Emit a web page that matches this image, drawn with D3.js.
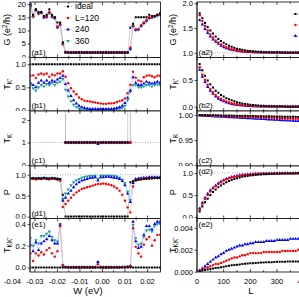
<!DOCTYPE html>
<html>
<head>
<meta charset="utf-8">
<script src="https://cdn.jsdelivr.net/npm/d3@7"></script>
<style>
  body { margin: 0; background: #fff; }
  svg { display: block; }
</style>
</head>
<body>
<div id="chart"></div>
<script>
// ---- left column: energy W (eV) ----
const W = [-0.032,-0.0308,-0.0296,-0.0284,-0.0272,-0.026,-0.0248,-0.0236,-0.0224,-0.0212,
  -0.02,-0.0188,-0.0176,-0.0164,-0.0152,-0.014,-0.0128,-0.0116,-0.0104,-0.0092,
  -0.008,-0.0068,-0.0056,-0.0044,-0.0032,-0.002,-0.0008,0.0004,0.0016,0.0028,
  0.004,0.0052,0.0064,0.0076,0.0088,0.01,0.0112,0.0124,0.0136,0.0148,
  0.016,0.0172,0.0184,0.0196,0.0208,0.022,0.0232,0.0244,0.0256];
const wTicks = [-0.04, -0.03, -0.02, -0.01, 0, 0.01, 0.02];

// (a1) G
const G_ideal = [20,16,18,17,17,15.5,16,18,16,15,13,13, 5.5,
  1.6,1.6,1.6,1.6,1.6,1.6, 1.6,1.6,1.6,1.6,1.6,1.6, 1.6,1.6,1.6,1.6,1.6,1.6, 1.6,1.6,1.6,1.6,1.6,1.6,
  11,12.5,15,15,15,15,15,16,15.5,15.5,16,16.5];
const G_120 = [20,15.5,18,16.5,17,15,15.5,17,15.5,15,11.5,12.5, 5,
  1.8,1.6,1.6,1.6,1.6,1.6, 1.6,1.6,1.6,1.6,1.6,1.6, 1.6,1.6,1.6,1.6,1.6,1.6, 1.6,1.6,1.6,1.6,1.6,1.6,
  3.5,12,10.5,10.5,12,13,14,15,15,15.5,16,16];
const G_240 = [19.5,15.5,17.8,16.5,16.8,15,15.2,16.8,15.3,14.8,11.2,12.2, 5,
  1.7,1.6,1.6,1.6,1.6,1.6, 1.6,1.6,1.6,1.6,1.6,1.6, 1.6,1.6,1.6,1.6,1.6,1.6, 1.6,1.6,1.6,1.6,1.6,1.6,
  3,11.8,10.2,10.4,11.8,12.8,13.8,14.8,15,15.3,15.8,16];
const G_360 = [19,15,17.5,16.2,16.5,14.8,15,16.5,15,14.5,11,12, 4.6,
  1.7,1.6,1.6,1.6,1.6,1.6, 1.6,1.6,1.6,1.6,1.6,1.6, 1.6,1.6,1.6,1.6,1.6,1.6, 1.6,1.6,1.6,1.6,1.6,1.6,
  2.8,11.5,10,10.2,11.5,12.5,13.5,14.5,14.8,15.2,15.6,15.8];

// (b1) T_K'
const TKp_ideal = [1,1,1,1,1,1,1,1,1,1,1,1,1,1,1,1,1,1,1,1,1,1,1,1,1,
  1,1,1,1,1,1,1,1,1,1,1,1,1,1,1,1,1,1,1,1,1,1,1,1];
const TKp_120 = [.75,.76,.70,.78,.80,.78,.80,.73,.78,.76,.80,.80, .85,
  .73,.59,.48,.41,.35,.28,.24,.21,.20,.19,.18,.17,.16,.15,.14,.14,.15,.15,.16,.18,.20,.22,.26,.37,
  .55,.84,.71,.65,.63,.72,.75,.76,.74,.72,.75,.75];
const TKp_240 = [.60,.55,.50,.60,.65,.60,.65,.60,.65,.62,.67,.70, .75,
  .57,.43,.31,.22,.15,.10,.07,.05,.04,.03,.03,.03,.03,.03,.03,.03,.03,.03,.04,.05,.07,.10,.16,.27,
  .43,.72,.60,.55,.55,.58,.62,.60,.58,.60,.62,.60];
const TKp_360 = [.55,.48,.43,.50,.55,.52,.57,.55,.60,.55,.60,.62, .68,
  .45,.30,.20,.12,.07,.04,.02,.01,.01,.01,.01,.01,.01,.01,.01,.01,.01,.01,.01,.02,.03,.05,.10,.22,
  .40,.55,.55,.50,.50,.52,.55,.55,.52,.55,.56,.55];

// (c1) T_K  (40 = off the top of the panel)
const TK_ideal = [null,null,null,null,null,null,null,null,null,null,null,null, 40,
  1,1,1,1,1,1,1,1,1,1,1,1,1,1,1,1,1,1,1,1,1,1,1,1, 40,
  null,null,null,null,null,null,null,null,null,null,null];
const TK_120 = [null,null,null,null,null,null,null,null,null,null,null,null, 40,
  1,1,1,1,1,1,1,1,1,1,1,1,1,1,1,1,1,1,1,1,1,1,1,1,1, 40,
  null,null,null,null,null,null,null,null,null,null];
const TK_240 = [null,null,null,null,null,null,null,null,null,null,null,null, 40,
  1,1,1,1,1,1,1,1,1,1,1,1,0.93,1,1,1,1,1,1,1,1,1,1,1,1, 40,
  null,null,null,null,null,null,null,null,null,null];
const TK_360 = [null,null,null,null,null,null,null,null,null,null,null,null, 40,
  1,1,1,1,1,1,1,1,1,1,1,1,0.97,1,1,1,1,1,1,1,1,1,1,1,1, 40,
  null,null,null,null,null,null,null,null,null,null];

// (d1) P
const P_ideal = [.92,.92,.91,.92,.91,.92,.91,.91,.92,.91,.90,.90, .52,
  0,0,0,0,0,0,0,0,0,0,0,0,0,0,0,0,0,0,0,0,0,0,0,0,
  .82,.85,.87,.88,.89,.90,.90,.91,.91,.92,.92,.92];
const P_120 = [.90,.90,.89,.90,.90,.91,.90,.89,.90,.90,.88,.86, .23,
  .30,.38,.45,.52,.58,.62,.66,.68,.70,.72,.74,.76,.78,.78,.79,.78,.77,.75,.72,.68,.62,.52,.38,.22,
  .10,.72,.86,.88,.90,.90,.91,.91,.92,.92,.92,.92];
const P_240 = [.91,.91,.90,.91,.91,.92,.91,.90,.91,.91,.90,.88, .38,
  .45,.55,.62,.70,.77,.82,.86,.88,.90,.92,.93,.94,.86,.94,.94,.95,.95,.94,.93,.92,.90,.85,.75,.55,
  .35,.80,.90,.91,.92,.93,.93,.94,.94,.94,.94,.94];
const P_360 = [.92,.92,.91,.92,.92,.93,.92,.91,.92,.92,.91,.90, .42,
  .55,.65,.75,.82,.87,.90,.93,.95,.96,.97,.97,.98,.90,.98,.98,.98,.98,.98,.97,.96,.93,.88,.80,.60,
  .40,.82,.88,.90,.91,.92,.92,.93,.93,.93,.93,.93];

// (e1) T_KK'
const TKKp_ideal = [0,0,0,0,0,0,0,0,0,0,0,0,0,0,0,0,0,0,0,0,0,0,0,0,0,
  0,0,0,0,0,0,0,0,0,0,0,0,0,0,0,0,0,0,0,0,0,0,0,0];
const TKKp_120 = [.13,.06,.13,.11,.14,.12,.16,.18,.13,.10,.15,.38, .02,
  .004,.003,.002,.002,.002,.002,.002,.002,.002,.002,.002,.002,.03,.002,.002,.002,.002,.002,.002,.002,.002,.003,.004,.006,
  .01,.36,.19,.13,.10,.21,.26,.28,.20,.25,.30,.30];
const TKKp_240 = [.21,.15,.23,.16,.22,.24,.26,.29,.25,.22,.22,.39, .02,
  .004,.003,.003,.003,.003,.003,.003,.003,.003,.003,.003,.003,.05,.003,.003,.003,.003,.003,.003,.003,.003,.004,.005,.008,
  .015,.42,.24,.18,.19,.30,.38,.38,.35,.40,.42,.42];
const TKKp_360 = [.27,.20,.25,.22,.29,.29,.31,.33,.28,.25,.24,.40, .02,
  .004,.003,.003,.003,.003,.003,.003,.003,.003,.003,.003,.003,.05,.003,.003,.003,.003,.003,.003,.003,.003,.004,.005,.008,
  .015,.39,.27,.21,.22,.28,.34,.35,.33,.38,.40,.40];

// ---- right column: ribbon length L ----
const L = [10,20,30,40,50,60,70,80,90,100,110,120,130,140,150,160,170,180,190,200,
  210,220,230,240,250,260,270,280,290,300,310,320,330,340,350,360,370,380,390,400];
const lTicks = [0, 100, 200, 300, 400];

const rG_black = [1.80,1.70,1.60,1.52,1.45,1.39,1.33,1.28,1.24,1.20,1.17,1.14,1.12,1.10,1.08,1.07,1.06,1.05,1.04,1.035,
  1.03,1.025,1.02,1.02,1.015,1.015,1.01,1.01,1.01,1.01,1.008,1.008,1.006,1.006,1.005,1.005,1.004,1.004,1.004,1.003];
const rG_red = [1.76,1.64,1.54,1.45,1.37,1.31,1.25,1.21,1.17,1.14,1.11,1.09,1.07,1.06,1.05,1.04,1.03,1.025,1.02,1.018,
  1.015,1.012,1.01,1.01,1.008,1.007,1.006,1.005,1.005,1.004,1.004,1.003,1.003,1.003,1.002,1.002,1.002,1.002,1.002,1.002];
const rG_blue = [1.66,1.57,1.48,1.40,1.33,1.27,1.22,1.18,1.14,1.11,1.09,1.07,1.06,1.05,1.04,1.03,1.025,1.02,1.017,1.014,
  1.012,1.01,1.008,1.007,1.006,1.005,1.004,1.004,1.003,1.003,1.003,1.002,1.002,1.002,1.002,1.002,1.001,1.001,1.001,1.001];

const rTKp_black = [.80,.68,.58,.49,.42,.36,.30,.26,.22,.19,.16,.14,.12,.10,.085,.072,.062,.053,.045,.038,
  .033,.028,.024,.020,.017,.015,.013,.011,.010,.009,.008,.007,.006,.006,.005,.005,.004,.004,.004,.003];
const rTKp_red = [.74,.60,.50,.41,.33,.27,.22,.18,.15,.12,.10,.08,.065,.055,.045,.037,.030,.025,.020,.017,
  .014,.012,.010,.008,.007,.006,.005,.004,.004,.003,.003,.003,.002,.002,.002,.002,.002,.001,.001,.001];
const rTKp_blue = [.69,.56,.46,.37,.30,.24,.19,.15,.12,.10,.08,.065,.052,.042,.034,.028,.022,.018,.015,.012,
  .010,.008,.007,.006,.005,.004,.003,.003,.003,.002,.002,.002,.002,.001,.001,.001,.001,.001,.001,.001];

const rTK_black = [1.0000,.9999,.9998,.9997,.9996,.9995,.9994,.9993,.9992,.9991,.9990,.9989,.9988,.9987,.9986,.9985,.9984,.9983,.9982,.9981,
  .9980,.9979,.9978,.9977,.9976,.9975,.9974,.9973,.9972,.9971,.9970,.9969,.9968,.9967,.9966,.9965,.9964,.9963,.9962,.9961];
const rTK_red = [.9998,.9996,.9994,.9992,.9990,.9988,.9986,.9984,.9982,.9980,.9978,.9976,.9974,.9972,.9970,.9968,.9966,.9964,.9962,.9960,
  .9958,.9956,.9954,.9952,.9950,.9948,.9946,.9944,.9942,.9940,.9938,.9936,.9934,.9932,.9930,.9928,.9926,.9924,.9922,.9920];
const rTK_blue = [.9990,.9987,.9984,.9981,.9978,.9975,.9972,.9969,.9966,.9963,.9960,.9957,.9954,.9951,.9948,.9945,.9942,.9939,.9936,.9933,
  .9930,.9927,.9924,.9921,.9918,.9915,.9912,.9909,.9906,.9903,.9900,.9897,.9894,.9891,.9888,.9885,.9882,.9879,.9876,.9873];

const rP_black = [.13,.24,.34,.42,.50,.57,.63,.68,.72,.76,.79,.82,.845,.865,.885,.90,.915,.925,.935,.945,
  .952,.958,.963,.968,.972,.975,.978,.981,.983,.985,.987,.988,.989,.990,.991,.992,.993,.993,.994,.994];
const rP_red = [.17,.30,.41,.50,.58,.65,.70,.75,.79,.83,.86,.88,.90,.915,.93,.94,.95,.96,.965,.97,
  .975,.98,.983,.985,.987,.989,.99,.991,.992,.993,.994,.995,.995,.996,.996,.997,.997,.997,.998,.998];
const rP_blue = [.20,.33,.44,.53,.61,.67,.72,.77,.81,.84,.87,.89,.91,.925,.94,.95,.96,.965,.97,.975,
  .98,.983,.986,.988,.99,.991,.992,.993,.994,.995,.995,.996,.996,.997,.997,.997,.998,.998,.998,.998];

const rTKKp_black = [.00005,.0001,.00015,.0002,.00025,.0003,.00033,.00036,.0004,.00045,.0005,.00055,.00058,.0006,.00063,.00066,.0007,.00072,.00074,.00077,
  .00078,.0008,.00082,.00083,.00084,.00085,.00086,.00087,.00088,.0009,.0009,.0009,.00091,.00092,.00092,.00093,.00093,.00094,.00094,.00095];
const rTKKp_red = [.0001,.0002,.0003,.0004,.0005,.0006,.0007,.0007,.0008,.0009,.001,.0011,.0012,.0013,.0013,.0014,.0015,.0015,.0016,.0017,
  .0017,.0017,.0017,.0017,.0018,.0018,.0018,.0018,.0018,.0018,.0018,.0019,.0019,.0019,.0019,.0019,.0019,.002,.0021,.0022];
const rTKKp_blue = [.0001,.0003,.0005,.0007,.0009,.0011,.0013,.0014,.0016,.0017,.0019,.002,.0021,.0022,.0023,.0024,.0024,.0025,.0025,.0026,
  .0026,.0027,.0027,.0027,.0027,.0028,.0028,.0028,.0028,.0029,.0029,.0029,.0029,.0029,.003,.003,.003,.003,.003,.003];

const legendLabels = ["ideal", "L=120", "240", "360"];

// ---- drawing ----
const FONT = "'Liberation Sans', Arial, sans-serif";
const width = 299, height = 297;

const svg = d3.select("#chart").append("svg")
    .attr("width", width)
    .attr("height", height)
    .style("font-family", FONT);

const styles = {
  black: {color: "#000", line: "#b0b0b0", shape: d3.symbolSquare, size: 4},
  red:   {color: "#ff0000", line: "#ffb8b8", shape: d3.symbolCircle, size: 4.5},
  blue:  {color: "#0000ff", line: "#b4b4ff", shape: d3.symbolTriangle, size: 5},
  teal:  {color: "#1a9c9c", line: "#a8d6d6", shape: d3.symbolTriangle, size: 5, flip: true}
};

// W axis: -0.04 sits left of the frame, as in the original figure
let xLeft = d3.scaleLinear().domain([-0.0322, 0.0258]).range([30, 160.5]);
let xRight = d3.scaleLinear().domain([0, 420]).range([197, 309]);

let rows = [
  {top: 2, bottom: 57.5},
  {top: 57.5, bottom: 111},
  {top: 111, bottom: 166},
  {top: 166, bottom: 218.5},
  {top: 218.5, bottom: 272}
];

function minorOf(ticks) {
  return d3.pairs(ticks).map(p => (p[0] + p[1]) / 2);
}

function drawTitle(g, x, y, parts) {
  let t = g.append("text")
      .attr("transform", `translate(${x},${y}) rotate(-90)`)
      .attr("text-anchor", "middle")
      .attr("dy", "0.35em")
      .attr("font-size", 9);
  let shift = 0;
  parts.forEach(p => {
    let ts = t.append("tspan").text(p.t);
    let want = p.sup ? -3 : p.sub ? 2 : 0;
    if (want != shift) ts.attr("dy", want - shift);
    shift = want;
    if (p.sup || p.sub) ts.attr("font-size", 6.5);
  });
}

function panel(c) {
  let row = rows[c.row];
  let x = c.x;
  let [x0, x1] = x.range();
  let [d0, d1] = x.domain();
  let y = d3.scaleLinear().domain(c.yDomain).range([row.bottom, row.top]);
  let g = svg.append("g");

  // white background hides overflow of the panel above
  g.append("rect")
      .attr("x", c.bg[0]).attr("y", row.top)
      .attr("width", c.bg[1] - c.bg[0]).attr("height", row.bottom - row.top)
      .attr("fill", "#fff");

  let clipId = "clip-" + c.label.replace(/\W/g, "");
  g.append("clipPath").attr("id", clipId)
    .append("rect")
      .attr("x", x0).attr("y", row.top)
      .attr("width", x1 - x0).attr("height", row.bottom - row.top);

  let plot = g.append("g").attr("clip-path", `url(#${clipId})`);

  if (c.ref != null) {
    plot.append("line")
        .attr("x1", x0).attr("x2", x1)
        .attr("y1", y(c.ref)).attr("y2", y(c.ref))
        .attr("stroke", "#8a8a8a").attr("stroke-width", 0.7)
        .attr("stroke-dasharray", "1,1.5");
  }

  let lineLayer = plot.append("g");
  let markLayer = plot.append("g");
  c.series.forEach(s => {
    let st = styles[s.style];
    let pts = c.xs.map((xv, i) => [xv, s.values[i]]);
    lineLayer.append("path")
        .datum(pts)
        .attr("fill", "none")
        .attr("stroke", st.line)
        .attr("stroke-width", 0.6)
        .attr("d", d3.line()
            .defined(d => d[1] != null)
            .x(d => x(d[0]))
            .y(d => y(d[1])));
    markLayer.append("g").selectAll("path")
      .data(pts.filter(d => d[1] != null))
      .join("path")
        .attr("transform", d => `translate(${x(d[0])},${y(d[1])})` + (st.flip ? " rotate(180)" : ""))
        .attr("d", d3.symbol(st.shape, st.size))
        .attr("fill", st.color);
  });

  // frame
  g.append("rect")
      .attr("x", x0).attr("y", row.top)
      .attr("width", x1 - x0).attr("height", row.bottom - row.top)
      .attr("fill", "none").attr("stroke", "#000").attr("stroke-width", 0.8);
  g.append("line")
      .attr("x1", x0).attr("x2", x0).attr("y1", row.top).attr("y2", row.bottom)
      .attr("stroke", "#555").attr("stroke-width", 1.4);

  // y axis
  let ya = g.append("g")
      .attr("transform", `translate(${x0},0)`)
      .call(d3.axisLeft(y).tickValues(c.yTicks).tickFormat(c.yFormat).tickSize(2.5).tickPadding(1.5));
  ya.attr("font-family", FONT).attr("font-size", 7.5);
  ya.select(".domain").remove();
  ya.selectAll("line").attr("stroke-width", 0.7);

  // x ticks on top and bottom edges, pointing inward (only those inside the frame)
  let inside = v => v >= d0 && v <= d1;
  let major = c.xTicks, minor = minorOf(c.xTicks);
  [[major, 3], [minor, 1.8]].forEach(([vals, len]) => {
    g.append("g").selectAll("line")
      .data(vals.filter(inside).flatMap(v => [[v, row.bottom, -len], [v, row.top, len]]))
      .join("line")
        .attr("x1", d => x(d[0])).attr("x2", d => x(d[0]))
        .attr("y1", d => d[1]).attr("y2", d => d[1] + d[2])
        .attr("stroke", "#000").attr("stroke-width", 0.7);
  });

  if (c.xLabels) {
    g.append("g").selectAll("text")
      .data(major)
      .join("text")
        .attr("x", d => x(d))
        .attr("y", row.bottom + 12)
        .attr("text-anchor", "middle")
        .attr("font-size", 7.5)
        .text(c.xFormat);
  }

  drawTitle(g, c.titleX, (row.top + row.bottom) / 2, c.title);

  g.append("text")
      .attr("x", x0 + 1.5)
      .attr("y", c.labelTop ? row.top + 8 : row.bottom - 3)
      .attr("font-size", 8)
      .text(c.label);

  return {g, y};
}

let leftSeries = (a, b, cc, d) => [
  {style: "teal", values: d},
  {style: "blue", values: cc},
  {style: "red", values: b},
  {style: "black", values: a}
];
let rightSeries = (a, b, cc) => [
  {style: "blue", values: cc},
  {style: "red", values: b},
  {style: "black", values: a}
];

let fmt1 = d3.format(".1f");
let leftBase = {x: xLeft, xs: W, xTicks: wTicks, bg: [0, 161], titleX: 7, xFormat: d => d.toFixed(2)};
let rightBase = {x: xRight, xs: L, xTicks: lTicks, bg: [161, 299], titleX: 173, xFormat: d => d};

let panels = [
  [{...leftBase, row: 0, yDomain: [-0.3, 20.8], yTicks: [0, 5, 10, 15, 20], yFormat: d => d,
     title: [{t: "G (e"}, {t: "2", sup: true}, {t: "/h)"}], label: "(a1)",
     series: leftSeries(G_ideal, G_120, G_240, G_360)},
   {...rightBase, row: 0, yDomain: [0.904, 2.026], yTicks: [1.0, 1.5, 2.0], yFormat: fmt1, ref: 1,
     title: [{t: "G (e"}, {t: "2", sup: true}, {t: "/h)"}], label: "(a2)",
     series: rightSeries(rG_black, rG_red, rG_blue)}],
  [{...leftBase, row: 1, yDomain: [-0.015, 1.148], yTicks: [0, 0.5, 1.0], yFormat: fmt1,
     title: [{t: "T"}, {t: "K'", sub: true}], label: "(b1)",
     series: leftSeries(TKp_ideal, TKp_120, TKp_240, TKp_360)},
   {...rightBase, row: 1, yDomain: [-0.08, 0.92], yTicks: [0, 0.5], yFormat: fmt1,
     title: [{t: "T"}, {t: "K'", sub: true}], label: "(b2)",
     series: rightSeries(rTKp_black, rTKp_red, rTKp_blue)}],
  [{...leftBase, row: 2, yDomain: [-0.044, 2.4], yTicks: [0, 1, 2], yFormat: d => d, ref: 1,
     title: [{t: "T"}, {t: "K", sub: true}], label: "(c1)",
     series: leftSeries(TK_ideal, TK_120, TK_240, TK_360)},
   {...rightBase, row: 2, yDomain: [0.8985, 1.008], yTicks: [0.90, 0.95, 1.00], yFormat: d3.format(".2f"),
     title: [{t: "T"}, {t: "K", sub: true}], label: "(c2)",
     series: rightSeries(rTK_black, rTK_red, rTK_blue)}],
  [{...leftBase, row: 3, yDomain: [-0.046, 1.21], yTicks: [0, 0.5, 1.0], yFormat: fmt1, ref: 1,
     title: [{t: "P"}], label: "(d1)",
     series: leftSeries(P_ideal, P_120, P_240, P_360)},
   {...rightBase, row: 3, yDomain: [-0.03, 1.16], yTicks: [0, 0.5, 1.0], yFormat: fmt1, ref: 1,
     title: [{t: "P"}], label: "(d2)", labelTop: true,
     series: rightSeries(rP_black, rP_red, rP_blue)}],
  [{...leftBase, row: 4, yDomain: [-0.041, 0.45], yTicks: [0, 0.2, 0.4], yFormat: fmt1, xLabels: true,
     title: [{t: "T"}, {t: "KK'", sub: true}], label: "(e1)", labelTop: true,
     series: leftSeries(TKKp_ideal, TKKp_120, TKKp_240, TKKp_360)},
   {...rightBase, row: 4, yDomain: [-0.00003, 0.00486], yTicks: [0, 0.002, 0.004], yFormat: d3.format(".3f"), xLabels: true,
     title: [{t: "T"}, {t: "KK'", sub: true}], label: "(e2)", labelTop: true,
     series: rightSeries(rTKKp_black, rTKKp_red, rTKKp_blue)}]
];

panels.forEach(pair => pair.forEach(panel));

// axis titles
svg.append("text").attr("x", 88).attr("y", 293.5).attr("text-anchor", "middle")
    .attr("font-size", 9.5).text("W (eV)");
svg.append("text").attr("x", 251).attr("y", 293.5).attr("text-anchor", "middle")
    .attr("font-size", 9.5).text("L");

// legends
function legendEntry(g, st, x, y) {
  g.append("line").attr("x1", x - 4).attr("x2", x + 4).attr("y1", y).attr("y2", y)
      .attr("stroke", st.line).attr("stroke-width", 0.7);
  g.append("path")
      .attr("transform", `translate(${x},${y})` + (st.flip ? " rotate(180)" : ""))
      .attr("d", d3.symbol(st.shape, st.size))
      .attr("fill", st.color);
}

let legL = svg.append("g");
["black", "red", "blue", "teal"].forEach((k, i) => {
  let yy = 6.5 + i * 11.5;
  legendEntry(legL, styles[k], 68, yy);
  legL.append("text").attr("x", 75).attr("y", yy).attr("dy", "0.35em")
      .attr("font-size", 8.5).text(legendLabels[i]);
});

let legR = svg.append("g");
["black", "red", "blue"].forEach((k, i) => {
  legendEntry(legR, styles[k], 295.5, 14 + i * 11);
});
</script>
</body>
</html>
